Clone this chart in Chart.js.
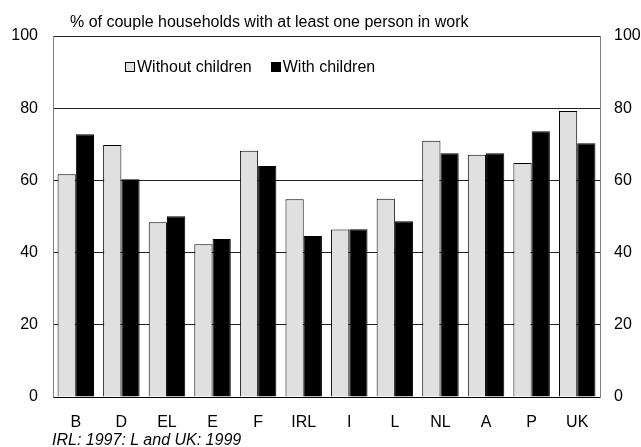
<!DOCTYPE html>
<html>
<head>
<meta charset="utf-8">
<script src="https://cdn.jsdelivr.net/npm/chart.js@4.4.1/dist/chart.umd.min.js"></script>
<style>
  html, body { margin: 0; padding: 0; background: #fff; }
  #wrap { position: relative; width: 641px; height: 447px; font-family: "Liberation Sans", Arial, sans-serif; color: #000; }
  #c { position: absolute; left: 0; top: 0; }
  .txt { position: absolute; white-space: nowrap; font-size: 16px; line-height: 18px; }
  #title { left: 70px; top: 13px; }
  #foot { left: 52px; top: 431px; font-style: italic; }
  #legend { left: 125px; top: 58px; display: flex; align-items: center; }
  .item { display: flex; align-items: center; margin-right: 19px; }
  .box { width: 10px; height: 10px; box-sizing: border-box; border: 1px solid #000; margin-right: 2px; }
</style>
</head>
<body>
<div id="wrap">
  <canvas id="c" width="641" height="447"></canvas>
  <div class="txt" id="title"></div>
  <div class="txt" id="legend"></div>
  <div class="txt" id="foot"></div>
</div>
<script>
const titleText = "% of couple households with at least one person in work";
const footText = "IRL: 1997: L and UK: 1999";
const categories = ["B", "D", "EL", "E", "F", "IRL", "I", "L", "NL", "A", "P", "UK"];
const seriesNames = ["Without children", "With children"];
const withoutChildren = [61.7, 69.8, 48.4, 42.3, 68.2, 54.8, 46.4, 54.9, 71.0, 67.1, 64.8, 79.2];
const withChildren = [72.8, 60.3, 50.1, 43.8, 64.0, 44.6, 46.5, 48.7, 67.5, 67.5, 73.6, 70.3];
const yTicks = [0, 20, 40, 60, 80, 100];

const fills = ["#e0e0e0", "#000000"];

document.getElementById("title").textContent = titleText;
document.getElementById("foot").textContent = footText;

const font = { family: "'Liberation Sans', Arial, sans-serif", size: 16 };

const chart = new Chart(document.getElementById("c"), {
  type: "bar",
  data: {
    labels: categories,
    datasets: [
      { label: seriesNames[0], data: withoutChildren, backgroundColor: fills[0], borderColor: "#000", borderWidth: 1, yAxisID: "y" },
      { label: seriesNames[1], data: withChildren, backgroundColor: fills[1], borderColor: "#000", borderWidth: 1, yAxisID: "y" }
    ]
  },
  options: {
    responsive: false,
    animation: false,
    devicePixelRatio: 1,
    layout: { padding: { top: 36, left: 0, right: 0, bottom: 0 } },
    datasets: { bar: { categoryPercentage: 0.8, barPercentage: 1.0 } },
    plugins: { legend: { display: false }, title: { display: false }, tooltip: { enabled: false } },
    scales: {
      x: {
        grid: { display: false },
        border: { display: true, color: "#000", width: 1 },
        ticks: { color: "#000", font: font, padding: 8, maxRotation: 0, autoSkip: false },
        afterFit: s => { s.height = 50; }
      },
      y: {
        position: "left",
        min: 0, max: 100,
        afterBuildTicks: s => { s.ticks = yTicks.map(v => ({ value: v })); },
        grid: { color: "#222", lineWidth: 1, drawTicks: false },
        border: { display: true, color: "#808080", width: 1 },
        ticks: { color: "#000", font: font, padding: 15 },
        afterFit: s => { s.width = 53; }
      },
      y2: {
        position: "right",
        min: 0, max: 100,
        afterBuildTicks: s => { s.ticks = yTicks.map(v => ({ value: v })); },
        grid: { display: false, drawTicks: false },
        border: { display: true, color: "#808080", width: 1 },
        ticks: { color: "#000", font: font, padding: 14 },
        afterFit: s => { s.width = 41; }
      }
    }
  }
});

const legend = document.getElementById("legend");
chart.data.datasets.forEach(ds => {
  const item = document.createElement("div");
  item.className = "item";
  const box = document.createElement("div");
  box.className = "box";
  box.style.background = ds.backgroundColor;
  const label = document.createElement("span");
  label.textContent = ds.label;
  item.appendChild(box);
  item.appendChild(label);
  legend.appendChild(item);
});
</script>
</body>
</html>
